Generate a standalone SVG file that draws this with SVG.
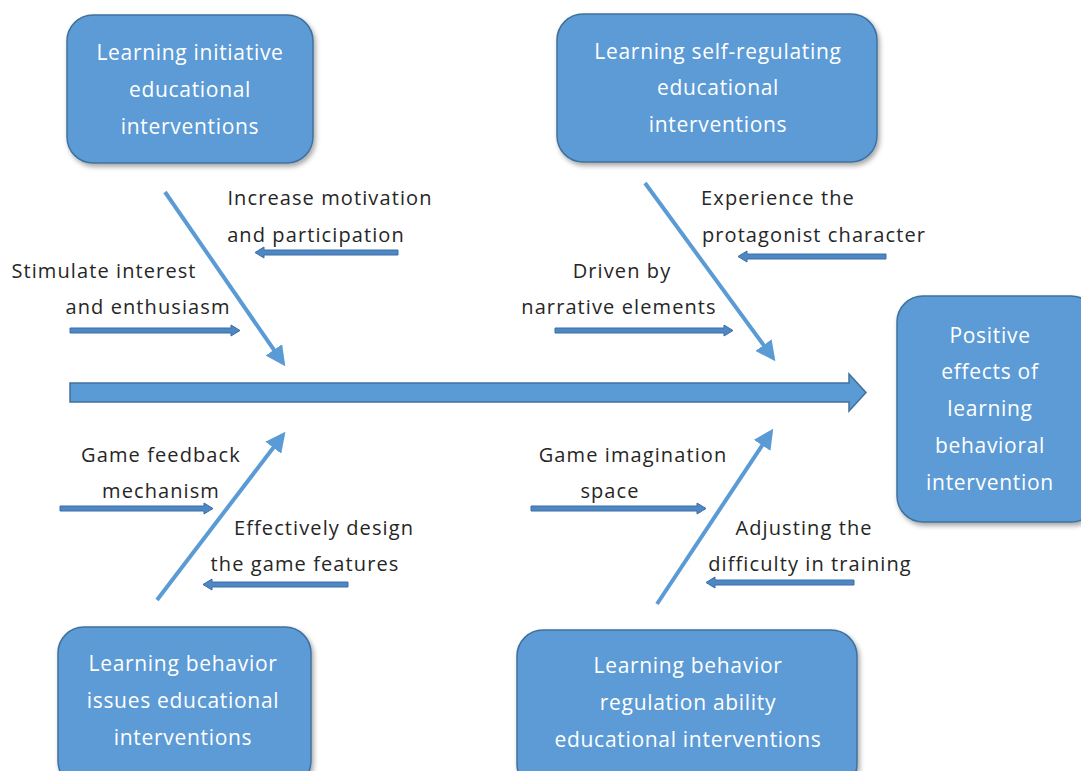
<svg xmlns="http://www.w3.org/2000/svg" width="1081" height="771" viewBox="0 0 1081 771">
  <defs>
    <filter id="shadow" x="-10%" y="-10%" width="130%" height="130%">
      <feDropShadow dx="2" dy="3" stdDeviation="2.5" flood-color="#000" flood-opacity="0.35"/>
    </filter>
    <marker id="boneHead" viewBox="0 0 10 10" refX="8" refY="5" markerWidth="5" markerHeight="5" orient="auto" markerUnits="strokeWidth">
      <path d="M0,0 L10,5 L0,10 z" fill="#5b9bd5"/>
    </marker>
    <style>
      .box { fill: #5b9bd5; stroke: #41719c; stroke-width: 1.5; filter: url(#shadow); }
      .boxText { font-family: "Open Sans", "Noto Sans", sans-serif; font-size: 21px; letter-spacing: 0.7px; fill: #ffffff; text-anchor: middle; }
      .label { font-family: "Open Sans", "Noto Sans", sans-serif; font-size: 20px; letter-spacing: 1.1px; fill: #262626; text-anchor: middle; }
      .bone { stroke: #5b9bd5; stroke-width: 4; fill: none; marker-end: url(#boneHead); }
      .twig { fill: #4f87c4; stroke: #3a6ea5; stroke-width: 1; }
      .spine { fill: #5b9bd5; stroke: #41719c; stroke-width: 1.5; }
    </style>
  </defs>

  <rect width="1081" height="771" fill="#ffffff"/>

  <!-- connectors: spine, bones and cause arrows -->
  <g id="connectors">
    <path class="spine" d="M70,383 L849,383 L849,374 L866,392.5 L849,411 L849,402 L70,402 z"/>

    <line class="bone" x1="165" y1="192" x2="283" y2="363"/>
    <line class="bone" x1="645" y1="183" x2="773" y2="358"/>
    <line class="bone" x1="157" y1="600" x2="283" y2="435"/>
    <line class="bone" x1="657" y1="604" x2="771" y2="432"/>

    <!-- left-pointing cause arrows -->
    <path class="twig" d="M398,250 L264,250 L264,247 L255,252.5 L264,258 L264,255 L398,255 z"/>
    <path class="twig" d="M886,254 L747,254 L747,251 L738,256.5 L747,262 L747,259 L886,259 z"/>
    <path class="twig" d="M348,582 L212,582 L212,579 L203,584.5 L212,590 L212,587 L348,587 z"/>
    <path class="twig" d="M854,580 L715,580 L715,577 L706,582.5 L715,588 L715,585 L854,585 z"/>

    <!-- right-pointing cause arrows -->
    <path class="twig" d="M70,328 L231,328 L231,325 L240,330.5 L231,336 L231,333 L70,333 z"/>
    <path class="twig" d="M555,328 L724,328 L724,325 L733,330.5 L724,336 L724,333 L555,333 z"/>
    <path class="twig" d="M60,506 L204,506 L204,503 L213,508.5 L204,514 L204,511 L60,511 z"/>
    <path class="twig" d="M531,506 L697,506 L697,503 L706,508.5 L697,514 L697,511 L531,511 z"/>
  </g>

  <!-- cause labels -->
  <g id="labels">
    <text class="label" x="330" y="205">Increase motivation</text>
    <text class="label" x="316" y="242">and participation</text>
    <text class="label" x="104" y="278">Stimulate interest</text>
    <text class="label" x="148" y="314">and enthusiasm</text>
    <text class="label" x="778" y="205">Experience the</text>
    <text class="label" x="814" y="242">protagonist character</text>
    <text class="label" x="622" y="278">Driven by</text>
    <text class="label" x="619" y="314">narrative elements</text>
    <text class="label" x="161" y="462">Game feedback</text>
    <text class="label" x="161" y="498">mechanism</text>
    <text class="label" x="324" y="535">Effectively design</text>
    <text class="label" x="305" y="571">the game features</text>
    <text class="label" x="633" y="462">Game imagination</text>
    <text class="label" x="610" y="498">space</text>
    <text class="label" x="804" y="535">Adjusting the</text>
    <text class="label" x="810" y="571">difficulty in training</text>
  </g>

  <g id="node-initiative">
    <rect class="box" x="67" y="15" width="246" height="148" rx="26"/>
    <text class="boxText" x="190" y="60">Learning initiative</text>
    <text class="boxText" x="190" y="97">educational</text>
    <text class="boxText" x="190" y="134">interventions</text>
  </g>

  <g id="node-self-regulating">
    <rect class="box" x="557" y="14" width="320" height="148" rx="26"/>
    <text class="boxText" x="718" y="59">Learning self-regulating</text>
    <text class="boxText" x="718" y="95">educational</text>
    <text class="boxText" x="718" y="132">interventions</text>
  </g>

  <g id="node-effects">
    <rect class="box" x="897" y="296" width="200" height="226" rx="26"/>
    <text class="boxText" x="990" y="343">Positive</text>
    <text class="boxText" x="990" y="379">effects of</text>
    <text class="boxText" x="990" y="416">learning</text>
    <text class="boxText" x="990" y="453">behavioral</text>
    <text class="boxText" x="990" y="490">intervention</text>
  </g>

  <g id="node-behavior-issues">
    <rect class="box" x="58" y="627" width="253" height="160" rx="26"/>
    <text class="boxText" x="183" y="671">Learning behavior</text>
    <text class="boxText" x="183" y="708">issues educational</text>
    <text class="boxText" x="183" y="745">interventions</text>
  </g>

  <g id="node-regulation-ability">
    <rect class="box" x="517" y="630" width="340" height="160" rx="26"/>
    <text class="boxText" x="688" y="673">Learning behavior</text>
    <text class="boxText" x="688" y="710">regulation ability</text>
    <text class="boxText" x="688" y="747">educational interventions</text>
  </g>
</svg>
